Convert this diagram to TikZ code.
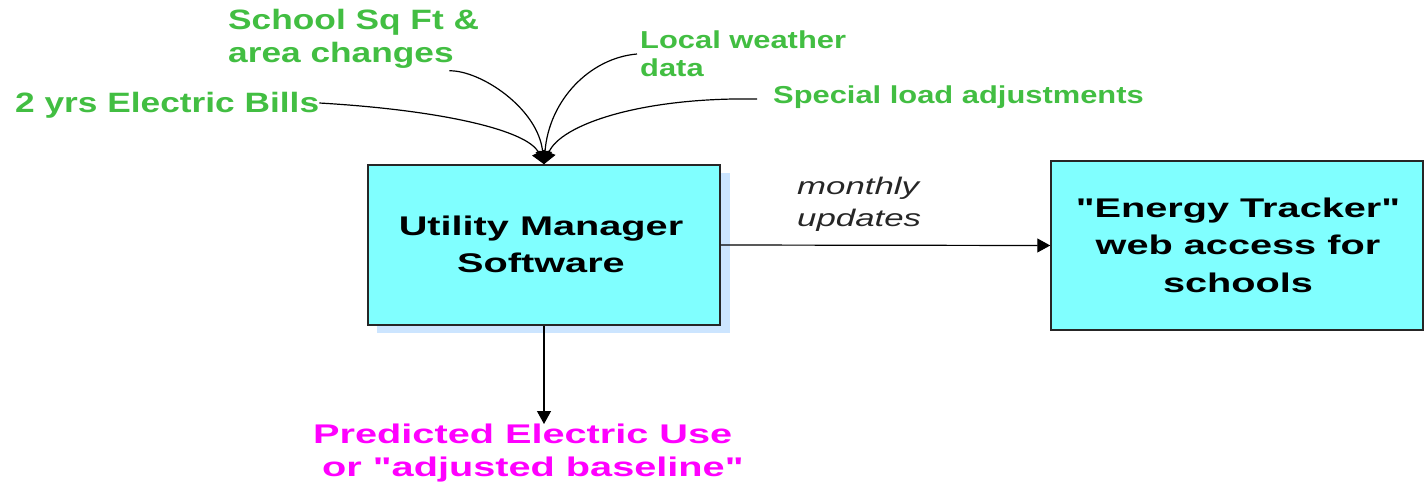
\documentclass[tikz,border=0pt]{standalone}
\usepackage{fontspec}
\setmainfont{Liberation Sans}
\newfontfamily\bigf[FakeStretch=1.47]{Liberation Sans}
\newfontfamily\grf[FakeStretch=1.26]{Liberation Sans}
\newfontfamily\itf[FakeStretch=1.45]{Liberation Sans}
\usetikzlibrary{arrows.meta}
\definecolor{ingreen}{RGB}{66,190,66}
\definecolor{outmag}{RGB}{255,0,255}
\definecolor{boxfill}{RGB}{128,255,255}
\definecolor{shadowblue}{RGB}{204,229,255}
\begin{document}
\begin{tikzpicture}[x=1pt,y=-1pt,
  procbox/.style={draw=black!85,line width=1.5pt,fill=boxfill,inner sep=0pt},
  bigtext/.style={font=\bigf\bfseries\fontsize{27}{37}\selectfont,align=center},
  greenbig/.style={text=ingreen,font=\grf\bfseries\fontsize{28}{33}\selectfont,inner sep=0pt,align=left},
  greensmall/.style={text=ingreen,font=\grf\bfseries\fontsize{24.5}{28}\selectfont,inner sep=0pt,align=left},
  conn/.style={draw=black,line width=1.2pt},
  arr/.style={conn,-{Triangle[length=13pt,width=14pt]}}
]
\useasboundingbox (0,0) rectangle (1424,491);
% shadow
\fill[shadowblue] (377,173) rectangle (730,333);
% boxes
\node[procbox,minimum width=352pt,minimum height=160pt] (um) at (544,245) {};
\node[bigtext] (umt) at (541,244) {Utility Manager\\Software};
\node[procbox,minimum width=372pt,minimum height=169pt] (et) at (1237,245.5) {};
\node[bigtext,font=\bigf\bfseries\fontsize{27}{37.5}\selectfont] (ett) at (1238,245) {"Energy Tracker"\\web access for\\schools};
% input labels
\node[greenbig,anchor=west] (bills) at (15,105) {2 yrs Electric Bills};
\node[greenbig,anchor=west] (area) at (228,39) {School Sq Ft \&\\area changes};
\node[greensmall,anchor=west] (local) at (640,54) {Local weather\\data};
\node[greensmall,anchor=west] (special) at (773,97) {Special load adjustments};
% output label
\node[text=outmag,font=\bigf\bfseries\fontsize{27}{33}\selectfont,align=left,anchor=north west,inner sep=0pt] (pred) at (313,424) {Predicted Electric Use\\\hspace*{9pt}or "adjusted baseline"};
% monthly label
\node[font=\itf\itshape\fontsize{24}{32}\selectfont,text=black!85,align=left,anchor=west,inner sep=0pt] (monthly) at (797,204) {monthly\\updates};
% connectors
\draw[arr] ([yshift=2pt]bills.east) .. controls (440,110) and (528,130) .. (um.north);
\draw[arr] ([xshift=-30pt,yshift=-2pt]area.south east) .. controls (480,70) and (538,108) .. (um.north);
\draw[arr] ([xshift=-3pt]local.west) .. controls (590,58) and (549,100) .. (um.north);
\draw[arr] ([xshift=-16pt,yshift=-2pt]special.west) .. controls (640,97) and (560,125) .. (um.north);
\draw[arr] (um.east) -- (et.west);
\draw[arr] (um.south) -- (pred.north -| um.south);
\end{tikzpicture}
\end{document}
